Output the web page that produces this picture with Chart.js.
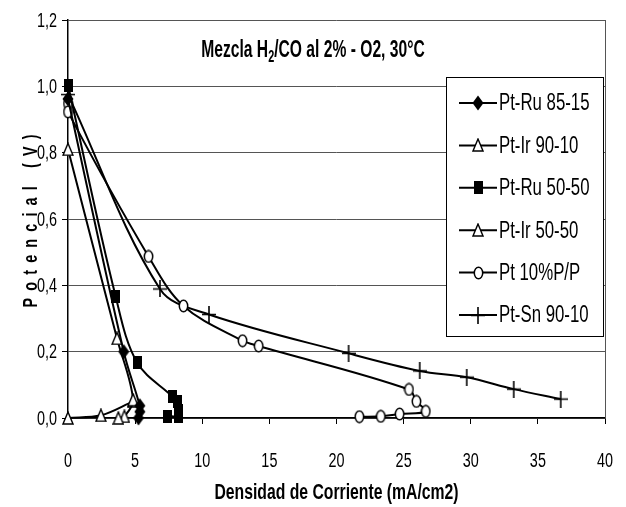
<!DOCTYPE html>
<html><head><meta charset="utf-8">
<script src="https://cdn.jsdelivr.net/npm/chart.js@4"></script>
<style>html,body{margin:0;padding:0;background:#fff}#wrap{width:626px;height:507px;position:relative}canvas{display:block}</style>
</head><body><div id="wrap"><canvas id="c" width="626" height="507"></canvas></div>
<script>
// ---------- DATA ----------
const xTickValues = [0, 5, 10, 15, 20, 25, 30, 35, 40];
const yTickValues = [0, 0.2, 0.4, 0.6, 0.8, 1.0, 1.2];
const chartTitle = ["Mezcla H", "2", "/CO al 2% - O2, 30°C"];
const xAxisTitle = "Densidad de Corriente (mA/cm2)";
const yAxisTitle = "Potencial (V)";
const seriesNames = ["Pt-Ru 85-15", "Pt-Ir 90-10", "Pt-Ru 50-50", "Pt-Ir 50-50", "Pt 10%P/P", "Pt-Sn 90-10"];

const ptRu8515X = [0, 4.15, 5.35, 5.35, 5.25];
const ptRu8515Y = [0.962, 0.20, 0.037, 0.019, 0.0];

const ptIr9010X = [0, 3.65, 4.85, 4.2, 3.75];
const ptIr9010Y = [0.81, 0.24, 0.055, 0.005, 0.0];

const ptRu5050X = [0, 3.55, 5.15, 7.8, 8.15, 8.25, 8.25, 7.4];
const ptRu5050Y = [1.004, 0.366, 0.167, 0.064, 0.049, 0.024, 0.006, 0.006];

const ptIr5050X = [0, 2.45, 4.85];
const ptIr5050Y = [0.0, 0.008, 0.05];

const pt10X = [0, 0, 6.0, 8.6, 13.0, 14.2, 25.4, 25.95, 26.65, 24.7, 23.3, 21.7];
const pt10Y = [0.948, 0.923, 0.487, 0.338, 0.233, 0.217, 0.086, 0.05, 0.02, 0.012, 0.005, 0.004];

const ptSnX = [0, 6.85, 10.5, 20.9, 26.2, 29.7, 33.2, 36.7];
const ptSnY = [0.975, 0.389, 0.312, 0.195, 0.142, 0.123, 0.087, 0.057];

// ---------- MARKERS ----------
function mk(w, h, fn) { const c = document.createElement('canvas'); c.width = w; c.height = h; const g = c.getContext('2d'); fn(g, w, h); return c; }
const mDiamond = mk(12, 16, g => { g.beginPath(); g.moveTo(6, 0.5); g.lineTo(11.5, 8); g.lineTo(6, 15.5); g.lineTo(0.5, 8); g.closePath(); g.fillStyle = '#000'; g.fill(); });
const mTriangle = mk(12, 14, g => { g.beginPath(); g.moveTo(6, 1); g.lineTo(11, 13); g.lineTo(1, 13); g.closePath(); g.fillStyle = '#fff'; g.fill(); g.lineWidth = 1.4; g.strokeStyle = '#000'; g.stroke(); });
const mSquare = mk(9, 13, g => { g.fillStyle = '#000'; g.fillRect(0, 0, 9, 13); });
const mCircle = mk(11, 14, g => { g.beginPath(); g.ellipse(5.5, 7, 4.2, 5.8, 0, 0, Math.PI * 2); g.fillStyle = '#fff'; g.fill(); g.lineWidth = 1.5; g.strokeStyle = '#000'; g.stroke(); });
const mPlus = mk(14, 17, g => { g.strokeStyle = '#000'; g.lineWidth = 1.6; g.beginPath(); g.moveTo(0, 8.5); g.lineTo(14, 8.5); g.moveTo(7, 0); g.lineTo(7, 17); g.stroke(); });
const markers = [mDiamond, mTriangle, mSquare, mTriangle, mCircle, mPlus];

const seriesX = [ptRu8515X, ptIr9010X, ptRu5050X, ptIr5050X, pt10X, ptSnX];
const seriesY = [ptRu8515Y, ptIr9010Y, ptRu5050Y, ptIr5050Y, pt10Y, ptSnY];

const FONT = "'Liberation Sans', Arial, sans-serif";
Chart.defaults.font.family = FONT;
Chart.defaults.color = '#000';

const datasets = seriesNames.map((name, i) => ({
  label: name,
  data: seriesX[i].map((x, j) => ({ x: x, y: seriesY[i][j] })),
  showLine: true,
  borderColor: '#000',
  borderWidth: 2,
  tension: 0.35,
  pointStyle: markers[i],
  pointRadius: 6,
  clip: false,
  fill: false
}));

// condensed text helper (imitates a narrow font)
function ctext(ctx, str, x, y, font, sx, align, baseline) {
  ctx.save();
  ctx.font = font; ctx.textAlign = 'left'; ctx.textBaseline = baseline || 'middle';
  const w = ctx.measureText(str).width * sx;
  const x0 = align === 'center' ? x - w / 2 : align === 'right' ? x - w : x;
  ctx.translate(x0, y); ctx.scale(sx, 1); ctx.fillText(str, 0, 0);
  ctx.restore();
  return w;
}
function fitSx(ctx, str, font, target) { ctx.save(); ctx.font = font; const w = ctx.measureText(str).width; ctx.restore(); return target / w; }

const decor = {
  id: 'decor',
  afterDraw(chart) {
    const ctx = chart.ctx, a = chart.chartArea;
    const sx = chart.scales.x, sy = chart.scales.y;
    ctx.save();
    ctx.fillStyle = '#000';
    // right border
    ctx.strokeStyle = '#555'; ctx.lineWidth = 1;
    ctx.beginPath(); ctx.moveTo(a.right + 0.5, a.top); ctx.lineTo(a.right + 0.5, a.bottom); ctx.stroke();
    // tick labels (positions from the library's scales)
    const tickFont = "20px " + FONT;
    sx.ticks.forEach(t => ctext(ctx, String(t.value), sx.getPixelForValue(t.value), a.bottom + 43, tickFont, 0.72, 'center'));
    sy.ticks.forEach(t => ctext(ctx, Number(t.value).toFixed(1).replace('.', ','), a.left - 11, sy.getPixelForValue(t.value) + 1, tickFont, 0.72, 'right'));
    // chart title with subscript
    const f1 = "bold 23px " + FONT, f2 = "bold 16px " + FONT;
    const s = 0.68;
    ctx.font = f1; const w1 = ctx.measureText(chartTitle[0]).width * s, w3 = ctx.measureText(chartTitle[2]).width * s;
    ctx.font = f2; const w2 = ctx.measureText(chartTitle[1]).width * s;
    let x = 313 - (w1 + w2 + w3) / 2; const by = 57;
    ctext(ctx, chartTitle[0], x, by, f1, s, 'left', 'alphabetic'); x += w1;
    ctext(ctx, chartTitle[1], x, by + 5, f2, s, 'left', 'alphabetic'); x += w2;
    ctext(ctx, chartTitle[2], x, by, f1, s, 'left', 'alphabetic');
    // x axis title
    const fx = "bold 22px " + FONT;
    ctext(ctx, xAxisTitle, (a.left + a.right) / 2, 493, fx, fitSx(ctx, xAxisTitle, fx, 244), 'center');
    // y axis title, spaced letters
    ctx.save();
    ctx.translate(31, (a.top + a.bottom) / 2 + 2);
    ctx.rotate(-Math.PI / 2);
    const fy = "bold 20px " + FONT, sy2 = 0.72;
    ctx.font = fy;
    const chars = yAxisTitle.split('');
    const cw = chars.map(c => ctx.measureText(c).width * sy2);
    const tot = cw.reduce((p, q) => p + q, 0);
    const gap = (173 - tot) / (chars.length - 1);
    let cx = -86.5;
    chars.forEach((c, i) => { ctext(ctx, c, cx, 0, fy, sy2, 'left', 'middle'); cx += cw[i] + gap; });
    ctx.restore();
    // legend
    const L = 446, T = 77, R = 604, B = 337;
    ctx.fillStyle = '#fff'; ctx.fillRect(L, T, R - L, B - T);
    ctx.strokeStyle = '#000'; ctx.lineWidth = 1; ctx.strokeRect(L + 0.5, T + 0.5, R - L - 1, B - T - 1);
    ctx.fillStyle = '#000';
    seriesNames.forEach((n, i) => {
      const y = 103 + i * 42.4;
      ctx.strokeStyle = '#000'; ctx.lineWidth = 2;
      ctx.beginPath(); ctx.moveTo(459, y); ctx.lineTo(497, y); ctx.stroke();
      const m = markers[i];
      ctx.drawImage(m, Math.round(478 - m.width / 2), Math.round(y - m.height / 2));
      ctext(ctx, n, 499, y + 1, "23px " + FONT, 0.73, 'left', 'middle');
    });
    ctx.restore();
  }
};

new Chart(document.getElementById('c'), {
  type: 'scatter',
  data: { datasets },
  options: {
    responsive: false,
    animation: false,
    layout: { padding: { top: 20, right: 21, left: 0, bottom: 0 } },
    plugins: { legend: { display: false }, tooltip: { enabled: false } },
    scales: {
      x: {
        type: 'linear', min: 0, max: 40,
        afterFit(s) { s.height = 89; },
        afterBuildTicks(s) { s.ticks = xTickValues.map(v => ({ value: v })); },
        ticks: { display: false },
        grid: { drawOnChartArea: false, drawTicks: true, tickLength: 6, color: '#000', tickColor: '#000' },
        border: { display: true, color: '#000', width: 1.5 },
        title: { display: false }
      },
      y: {
        type: 'linear', min: 0, max: 1.2,
        afterFit(s) { s.width = 68; },
        afterBuildTicks(s) { s.ticks = yTickValues.map(v => ({ value: v })); },
        ticks: { display: false },
        grid: { drawOnChartArea: true, drawTicks: true, tickLength: 6, color: '#555', tickColor: '#000', lineWidth: 1 },
        border: { display: true, color: '#000', width: 1.5 }
      }
    }
  },
  plugins: [decor]
});
</script>
</body></html>
